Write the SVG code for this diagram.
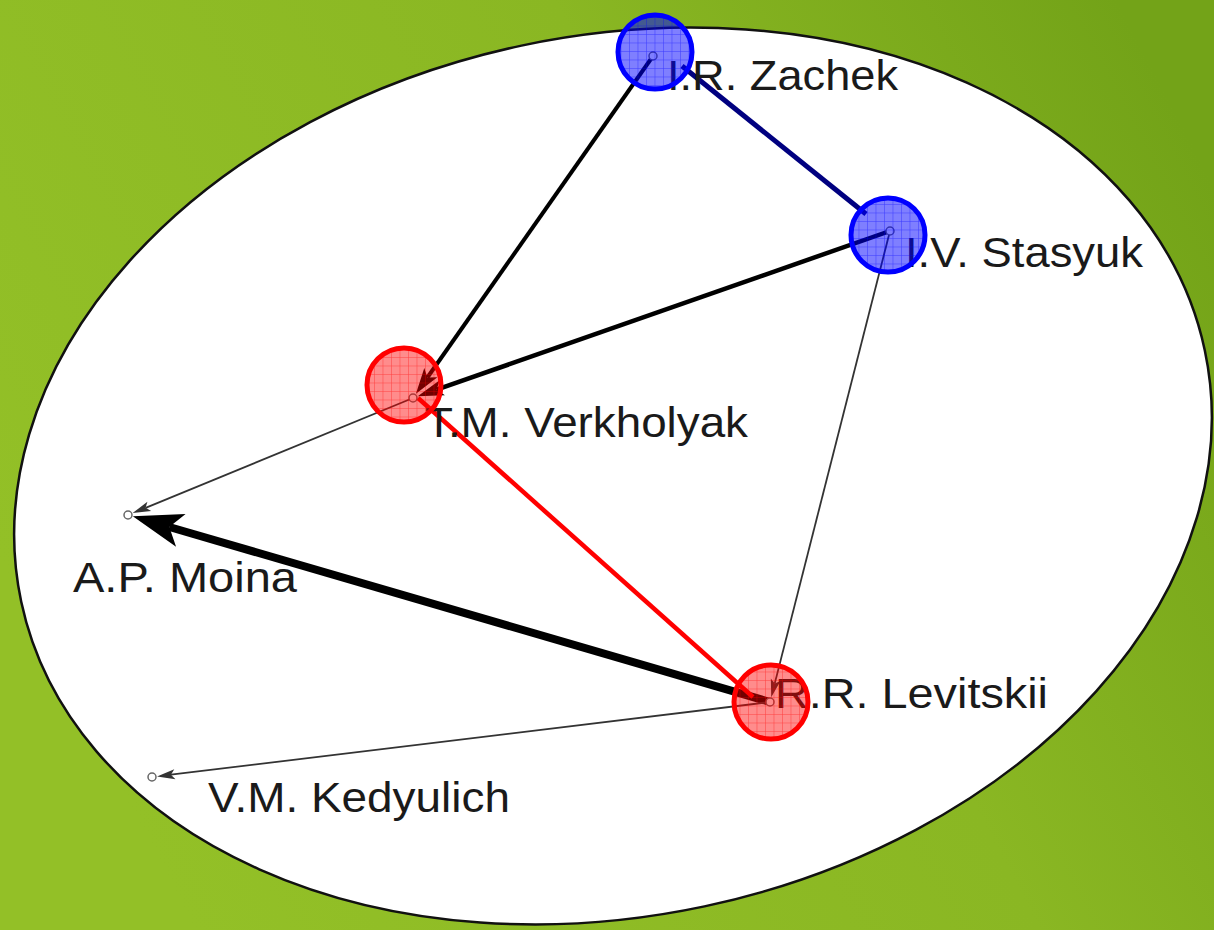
<svg xmlns="http://www.w3.org/2000/svg" width="1214" height="930" viewBox="0 0 1214 930">
  <defs>
    <linearGradient id="bg" x1="0" y1="0.6" x2="1" y2="0.2">
      <stop offset="0" stop-color="#93c027"/>
      <stop offset="0.6" stop-color="#8ab723"/>
      <stop offset="1" stop-color="#73a318"/>
    </linearGradient>
    <pattern id="gridBlue" patternUnits="userSpaceOnUse" width="8.5" height="8.5">
      <rect width="8.5" height="8.5" fill="#0000ff" fill-opacity="0.5"/>
      <path d="M0 0H8.5M0 0V8.5" stroke="#0000ff" stroke-width="1" stroke-opacity="0.55"/>
    </pattern>
    <pattern id="gridRed" patternUnits="userSpaceOnUse" width="8.5" height="8.5">
      <rect width="8.5" height="8.5" fill="#ff0000" fill-opacity="0.45"/>
      <path d="M0 0H8.5M0 0V8.5" stroke="#ff0000" stroke-width="1" stroke-opacity="0.55"/>
    </pattern>
    <marker id="arrowBig" markerUnits="userSpaceOnUse" viewBox="-14 -19 54 38" markerWidth="54" markerHeight="38" refX="0" refY="0" orient="auto">
      <path d="M38,0 L-12,-17 L0,0 L-12,17 Z" fill="#000"/>
    </marker>
    <marker id="arrowMed" markerUnits="userSpaceOnUse" viewBox="-8 -10 30 20" markerWidth="30" markerHeight="20" refX="0" refY="0" orient="auto">
      <path d="M20,0 L-6,-8 L0,0 L-6,8 Z" fill="#000"/>
    </marker>
    <marker id="arrowSmall" markerUnits="userSpaceOnUse" viewBox="-6 -7 22 14" markerWidth="22" markerHeight="14" refX="0" refY="0" orient="auto">
      <path d="M14,0 L-4,-5 L0,0 L-4,5 Z" fill="#333"/>
    </marker>
  </defs>
  <style>
    .label { font-family: "Liberation Sans", Arial, sans-serif; font-size: 42px; fill: #1a1a1a; }
    .vertex { fill: #fff; stroke: #666; stroke-width: 1.5; }
    .hl-blue { fill: url(#gridBlue); stroke: #0000ff; stroke-width: 5; }
    .hl-red { fill: url(#gridRed); stroke: #ff0000; stroke-width: 5; }
    .edge-thick { stroke: #000; fill: none; stroke-linecap: butt; }
    .edge-thin { stroke: #333; stroke-width: 1.8; fill: none; }
  </style>

  <rect x="0" y="0" width="1214" height="930" fill="url(#bg)"/>
  <ellipse cx="613" cy="476" rx="605" ry="440" transform="rotate(-12 613 476)" fill="#fff" stroke="#111" stroke-width="2.5"/>

  <g id="connectors">
    <line class="edge-thick" x1="653" y1="56" x2="427.4" y2="377.5" stroke-width="4" marker-end="url(#arrowMed)"/>
    <line class="edge-thick" x1="890" y1="231" x2="436.6" y2="389.7" stroke-width="4.5" marker-end="url(#arrowMed)"/>
    <line class="edge-thin" x1="890" y1="231" x2="774.7" y2="683.6" marker-end="url(#arrowSmall)"/>
    <line class="edge-thin" x1="413" y1="398" x2="145.6" y2="507.8" marker-end="url(#arrowSmall)"/>
    <line class="edge-thick" x1="770" y1="702" x2="169.3" y2="527" stroke-width="8" marker-end="url(#arrowBig)"/>
    <line class="edge-thin" x1="770" y1="702" x2="170.9" y2="774.7" marker-end="url(#arrowSmall)"/>
    <line x1="682" y1="66" x2="866" y2="214" stroke="#000080" stroke-width="5"/>
    <line x1="418" y1="398" x2="753" y2="697" stroke="#ff0000" stroke-width="4.5"/>
  </g>

  <g id="node-zachek">
    <circle class="vertex" cx="653" cy="56" r="4"/>
    <text class="label" x="667" y="90" textLength="231" lengthAdjust="spacingAndGlyphs">I.R. Zachek</text>
    <circle class="hl-blue" cx="655" cy="52" r="37"/>
  </g>
  <g id="node-stasyuk">
    <circle class="vertex" cx="890" cy="231" r="4"/>
    <text class="label" x="905" y="267" textLength="238" lengthAdjust="spacingAndGlyphs">I.V. Stasyuk</text>
    <circle class="hl-blue" cx="888" cy="235" r="37"/>
  </g>
  <g id="node-verkholyak">
    <circle class="vertex" cx="413" cy="398" r="4"/>
    <text class="label" x="425" y="437" textLength="323" lengthAdjust="spacingAndGlyphs">T.M. Verkholyak</text>
    <circle class="hl-red" cx="404" cy="385" r="37"/>
  </g>
  <g id="node-levitskii">
    <circle class="vertex" cx="770" cy="702" r="4"/>
    <text class="label" x="775" y="708" textLength="273" lengthAdjust="spacingAndGlyphs">R.R. Levitskii</text>
    <circle class="hl-red" cx="771" cy="702" r="37"/>
  </g>
  <g id="node-moina">
    <circle class="vertex" cx="128" cy="515" r="4"/>
    <text class="label" x="73" y="592" textLength="224" lengthAdjust="spacingAndGlyphs">A.P. Moina</text>
  </g>
  <g id="node-kedyulich">
    <circle class="vertex" cx="152" cy="777" r="4"/>
    <text class="label" x="208" y="812" textLength="302" lengthAdjust="spacingAndGlyphs">V.M. Kedyulich</text>
  </g>
</svg>
